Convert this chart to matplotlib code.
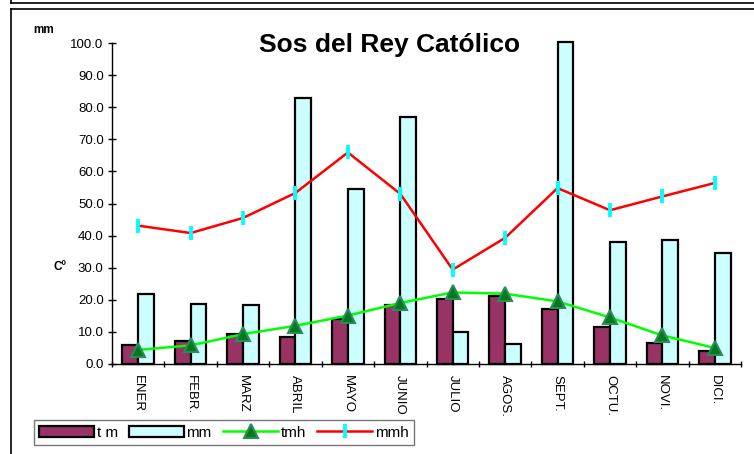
import numpy as np
import matplotlib
matplotlib.use('Agg')
import matplotlib.pyplot as plt
from matplotlib.lines import Line2D

plt.rcParams['font.family'] = ['Liberation Sans', 'DejaVu Sans']

# Datos
meses = ['ENER', 'FEBR.', 'MARZ', 'ABRIL', 'MAYO', 'JUNIO',
         'JULIO', 'AGOS.', 'SEPT.', 'OCTU.', 'NOVI.', 'DICI.']
t_m = [5.9, 7.2, 9.4, 8.4, 14.1, 18.5, 20.4, 21.2, 17.1, 11.5, 6.5, 4.2]
mm = [21.8, 18.7, 18.4, 82.9, 54.6, 76.8, 10.1, 6.1, 100.3, 38.0, 38.5, 34.6]
tmh = [4.4, 5.8, 9.3, 11.9, 15.1, 19.0, 22.3, 21.9, 19.5, 14.5, 8.9, 5.0]
mmh = [43.1, 40.8, 45.5, 53.3, 65.9, 53.0, 29.4, 39.3, 54.8, 47.9, 52.2, 56.4]

W, H = 754, 454
fig = plt.figure(figsize=(W / 100, H / 100), dpi=100)
ax = fig.add_axes([112 / W, 1 - 364 / H, (741 - 112) / W, (364 - 43) / H])

x = np.arange(len(meses)) + 0.5
b1 = ax.bar(x - 0.15, t_m, width=0.3, color='#993366', edgecolor='black', linewidth=1.6,
            label='t m', zorder=2, clip_on=False)
b2 = ax.bar(x + 0.15, mm, width=0.3, color='#CCFFFF', edgecolor='black', linewidth=1.6,
            label='mm', zorder=2, clip_on=False)
l1, = ax.plot(x, tmh, color='#00FF00', linewidth=1.8, marker='^', markersize=10,
              markerfacecolor='#007A1F', markeredgecolor='#2E8B57', markeredgewidth=1.5,
              label='tmh', zorder=4, clip_on=False)
l2, = ax.plot(x, mmh, color='#FF0000', linewidth=1.8, marker='|', markersize=10,
              markeredgecolor='#00FFFF', markeredgewidth=2.8, label='mmh', zorder=3, clip_on=False)

ax.set_xlim(0, 12)
ax.set_ylim(0, 100)
ax.set_yticks(np.arange(0, 101, 10))
ax.set_yticklabels([f'{v:.1f}' for v in np.arange(0, 101, 10)], fontsize=9.5)
ax.set_xticks(np.arange(0, 13))
ax.set_xticklabels([])
ax.set_xticks(x, minor=True)
ax.set_xticklabels(meses, minor=True, rotation=270, fontsize=9.5, va='top')
ax.tick_params(axis='x', which='minor', length=0, pad=8)
ax.tick_params(axis='x', which='major', direction='inout', length=5, width=1)
ax.tick_params(axis='y', direction='inout', length=6, width=1, pad=3)
for s in ['top', 'right']:
    ax.spines[s].set_visible(False)
for s in ['left', 'bottom']:
    ax.spines[s].set_linewidth(1)

fig.text(390 / W, 1 - 45 / H, 'Sos del Rey Católico', ha='center', va='center',
         fontsize=19, fontweight='bold')
fig.text(44 / W, 1 - 30 / H, 'mm', ha='center', va='center', fontsize=8.5, fontweight='bold')
fig.text(60 / W, 1 - 267 / H, 'Cº', ha='center', va='center', fontsize=8.5, fontweight='bold')

# marcos
fig.add_artist(Line2D([11 / W, 1], [1 - 3 / H, 1 - 3 / H], color='black', lw=1.2))
fig.add_artist(Line2D([11 / W, 11 / W], [1 - 3 / H, 1], color='black', lw=1.2))
fig.add_artist(Line2D([11 / W, 1], [1 - 8.5 / H, 1 - 8.5 / H], color='black', lw=1.2))
fig.add_artist(Line2D([11 / W, 11 / W], [0, 1 - 8.5 / H], color='black', lw=1.2))

leg = fig.legend([b1, b2, l1, l2], ['t m', 'mm', 'tmh', 'mmh'],
                 loc='lower left', bbox_to_anchor=(34 / W, 1 - 445 / H), ncol=4,
                 fontsize=11, frameon=True, fancybox=False, edgecolor='#555555',
                 handlelength=3.6, handletextpad=0.15, columnspacing=0.75,
                 borderpad=0.35, borderaxespad=0)
leg.get_frame().set_linewidth(1)

fig.savefig('out.png', dpi=100)
